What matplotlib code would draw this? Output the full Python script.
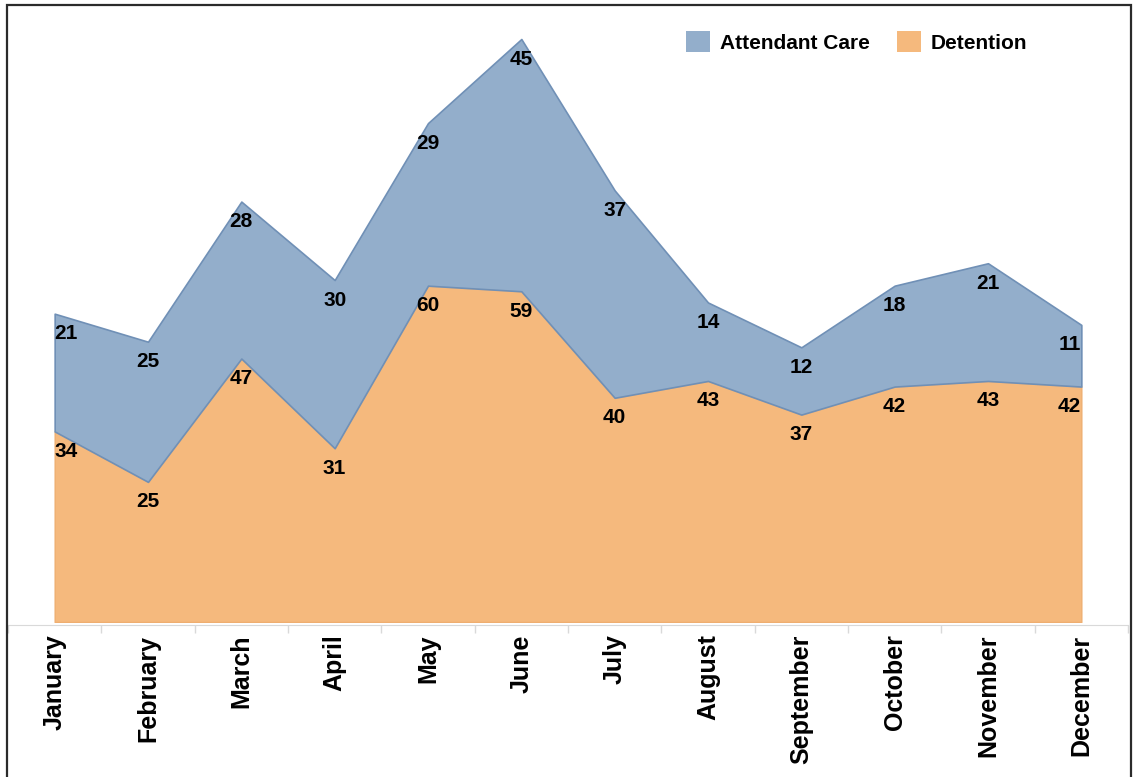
import numpy as np
import matplotlib.pyplot as plt
from matplotlib.patches import Rectangle

months = ['January', 'February', 'March', 'April', 'May', 'June',
          'July', 'August', 'September', 'October', 'November', 'December']
detention = [34, 25, 47, 31, 60, 59, 40, 43, 37, 42, 43, 42]
attendant_care = [21, 25, 28, 30, 29, 45, 37, 14, 12, 18, 21, 11]

blue = '#93AECB'
blue_edge = '#7090B6'
orange = '#F5B97D'
orange_edge = '#EFAE70'

plt.rcParams['font.family'] = ['Liberation Sans', 'DejaVu Sans']
plt.rcParams['font.weight'] = 'bold'

W, H = 1137, 777
fig = plt.figure(figsize=(W / 100, H / 100), dpi=100)
ax = fig.add_axes([8 / W, 155 / H, 1120 / W, 612.7 / H])

x = np.arange(len(months))
det = np.array(detention)
total = det + np.array(attendant_care)

det_area = ax.fill_between(x, 0, det, facecolor=orange, edgecolor=orange_edge,
                           lw=1, zorder=2, label='Detention')
care_area = ax.fill_between(x, det, total, facecolor=blue, edgecolor=blue_edge,
                            lw=1.2, zorder=3, label='Attendant Care')

ax.set_xlim(-0.5, 11.5)
ax.set_ylim(0, 109.3)

# value labels sit just under each series' upper edge
for i in x:
    ha = 'left' if i == 0 else ('right' if i == len(x) - 1 else 'center')
    ax.annotate(str(detention[i]), (i, det[i]), xytext=(0, -20),
                textcoords='offset pixels', ha=ha, va='center',
                fontsize=15, fontweight='bold', zorder=5)
    ax.annotate(str(attendant_care[i]), (i, total[i]), xytext=(0, -20),
                textcoords='offset pixels', ha=ha, va='center',
                fontsize=15, fontweight='bold', zorder=5)

ax.set_yticks([])
ax.set_xticks(x, months)
ax.set_xticks(np.arange(-0.5, 12, 1), minor=True)
ax.tick_params(axis='x', which='major', length=0, pad=7,
               labelrotation=90, labelsize=18)
ax.tick_params(axis='x', which='minor', length=6, color='#D9D9D9', width=1)
for lbl in ax.get_xticklabels():
    lbl.set_fontweight('bold')

for side in ['left', 'right', 'top']:
    ax.spines[side].set_visible(False)
ax.spines['bottom'].set_color('#D9D9D9')
ax.spines['bottom'].set_position(('outward', 2))

leg = ax.legend([care_area, det_area], ['Attendant Care', 'Detention'],
                ncol=2, frameon=False, loc='center',
                bbox_to_anchor=(856.5 / W, 1 - 42 / H),
                bbox_transform=fig.transFigure,
                prop={'weight': 'bold', 'size': 15},
                handlelength=1.15, handleheight=1.15, handletextpad=0.48,
                columnspacing=1.3, borderpad=0)
for h in leg.legend_handles:
    h.set_edgecolor('none')

fig.patches.append(Rectangle((7 / W, -0.05), 1124 / W, (H - 5) / H + 0.05,
                             transform=fig.transFigure, fill=False,
                             edgecolor='#2B2B2B', lw=1.6))

fig.savefig('out.png', dpi=100)
